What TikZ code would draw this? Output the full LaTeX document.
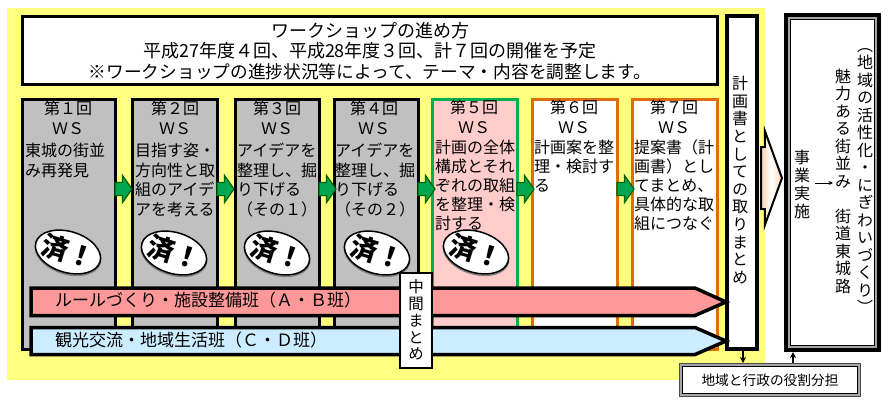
\documentclass[tikz,border=0pt]{standalone}
\usepackage{fontspec}
\setmainfont{Noto Sans CJK JP}
\newfontfamily\vjp[RawFeature=+vert]{Noto Sans CJK JP}
\usetikzlibrary{shapes.geometric,shapes.arrows,calc,shadows,arrows.meta}
\definecolor{ybg}{HTML}{FFFF80}
\definecolor{wsgray}{HTML}{C0C0C0}
\definecolor{wspink}{HTML}{FFCCCC}
\definecolor{wsgreen}{HTML}{00B050}
\definecolor{wsorange}{HTML}{E36C0A}
\definecolor{redban}{HTML}{FF9999}
\definecolor{blueban}{HTML}{CCECFF}
\definecolor{arrgreen}{HTML}{00A651}
\definecolor{arrdark}{HTML}{006400}
\definecolor{peach}{HTML}{FBD4B4}
\definecolor{dblgray}{HTML}{A6A6A6}
\tikzset{
  base/.style={rectangle,inner sep=0,outer sep=0},
  topbox/.style={base,draw=black,line width=3pt,fill=white},
  wsdone/.style={base,draw=black,line width=3pt,fill=wsgray},
  wsnow/.style={base,draw=wsgreen,line width=3pt,fill=wspink},
  wsnext/.style={base,draw=wsorange,line width=3pt,fill=white},
  head/.style={inner sep=0,align=center,font=\fontsize{16}{20}\selectfont,anchor=north},
  body/.style={inner sep=0,align=left,font=\fontsize{16}{19.5}\selectfont,anchor=north west},
  stamp/.style={ellipse,draw=black,line width=1.5pt,fill=white,inner xsep=-5pt,inner ysep=-3pt,minimum width=67pt,minimum height=41pt,rotate=-17,
    font=\fontsize{27}{27}\selectfont\bfseries,
    preaction={draw=gray,line width=1.5pt,transform canvas={yshift=-1.5pt}}},
  garrow/.style={single arrow,draw=arrdark,line width=1.2pt,fill=arrgreen,inner xsep=0pt,inner ysep=6pt,
    minimum height=17pt,minimum width=26pt,single arrow head extend=7pt,single arrow tip angle=110,outer sep=0,anchor=tail},
  banner/.style={draw=black,line width=3.5pt,miter limit=10},
  bantext/.style={inner sep=0,anchor=west,font=\fontsize{17}{17}\selectfont},
  vtext/.style={inner sep=0,align=center,font=\fontsize{16}{17.5}\selectfont\vjp},
}
\begin{document}
\begin{tikzpicture}[x=1pt,y=-1pt]
\useasboundingbox (0,0) rectangle (889,405);
\fill[white] (0,0) rectangle (889,405);
\fill[ybg] (7,8) rectangle (765,380);
% title box
\node[topbox,minimum width=695pt,minimum height=68pt] (title) at (370,50) {};
\node[inner sep=0,align=center,font=\fontsize{18}{20.5}\selectfont] (titletext) at (370,51)
  {ワークショップの進め方\\平成27年度４回、平成28年度３回、計７回の開催を予定\\{\fontsize{17.7}{20.5}\selectfont ※ワークショップの進捗状況等によって、テーマ・内容を調整します。}};
% workshop boxes
\node[wsdone,minimum width=93pt,minimum height=250pt] (w1) at (69,224) {};
\node[wsdone,minimum width=85pt,minimum height=250pt] (w2) at (175,224) {};
\node[wsdone,minimum width=84pt,minimum height=250pt] (w3) at (277.5,224) {};
\node[wsdone,minimum width=84pt,minimum height=250pt] (w4) at (376.5,224) {};
\node[wsnow,minimum width=85pt,minimum height=250pt] (w5) at (475,224) {};
\node[wsnext,minimum width=85pt,minimum height=250pt] (w6) at (575,224) {};
\node[wsnext,minimum width=85pt,minimum height=250pt] (w7) at (675,224) {};
% green arrows between boxes
\foreach \a/\n in {w1/g1,w2/g2,w3/g3,w4/g4,w5/g5,w6/g6}
  \node[garrow] (\n) at ($(\a.east)+(-0.5,-35)$) {};
% headers
\node[head] (h1) at (68,101) {第１回\\ＷＳ};
\node[head] (h2) at (175,101) {第２回\\ＷＳ};
\node[head] (h3) at (277,101) {第３回\\ＷＳ};
\node[head] (h4) at (374,101) {第４回\\ＷＳ};
\node[head] (h5) at (474,100) {第５回\\ＷＳ};
\node[head] (h6) at (574,100) {第６回\\ＷＳ};
\node[head] (h7) at (674,100) {第７回\\ＷＳ};
% bodies
\node[body] (b1) at (25,143) {東城の街並\\み再発見};
\node[body] (b2) at (135,143) {目指す姿・\\方向性と取\\組のアイデ\\アを考える};
\node[body] (b3) at (237,143) {アイデアを\\整理し、掘\\り下げる\\（その１）};
\node[body] (b4) at (335,143) {アイデアを\\整理し、掘\\り下げる\\（その２）};
\node[body,font=\fontsize{16}{19}\selectfont] (b5) at (435,140) {計画の全体\\構成とそれ\\ぞれの取組\\を整理・検\\討する};
\node[body,font=\fontsize{16}{19}\selectfont] (b6) at (534,140) {計画案を整\\理・検討す\\る};
\node[body,font=\fontsize{16}{19}\selectfont] (b7) at (634,140) {提案書（計\\画書）とし\\てまとめ、\\具体的な取\\組につなぐ};
% stamps
\node[stamp] (s1) at (68,252) {済！};
\node[stamp] (s2) at (174,253) {済！};
\node[stamp] (s3) at (277,253) {済！};
\node[stamp] (s4) at (377,253) {済！};
\node[stamp] (s5) at (476,252) {済！};
% summary column
\node[base,draw=black,line width=4pt,fill=white,minimum width=30pt,minimum height=333pt] (plan) at (741.5,182.5) {};
\node[vtext,font=\fontsize{16}{17.6}\selectfont\vjp] (plantext) at (740,180) {計\\画\\書\\と\\し\\て\\の\\取\\り\\ま\\と\\め};
% banners
\draw[banner,fill=redban] (31,288) -- (695,288) -- (726,302) -- (695,315.5) -- (31,315.5) -- cycle;
\node[bantext] (ban1) at (55,300) {ルールづくり・施設整備班（Ａ・Ｂ班）};
\draw[banner,fill=blueban] (31,327.5) -- (695,327.5) -- (726,341) -- (695,354.5) -- (31,354.5) -- cycle;
\node[bantext] (ban2) at (55,340) {観光交流・地域生活班（Ｃ・Ｄ班）};
% mid summary
\node[base,draw=black,line width=2pt,fill=white,minimum width=32pt,minimum height=95pt] (mid) at (416,320.5) {};
\node[vtext,font=\fontsize{15.5}{16.8}\selectfont\vjp] (midtext) at (416,320) {中\\間\\ま\\と\\め};
% right box
\node[base,fill=black,minimum width=97pt,minimum height=339pt] (impl) at (832.5,182.5) {};
\node[base,fill=dblgray,minimum width=89pt,minimum height=331pt] (impl2) at (impl.center) {};
\node[base,fill=white,draw=black,line width=1pt,minimum width=84pt,minimum height=326pt] (impl3) at (impl.center) {};
\node[vtext,font=\fontsize{16}{18}\selectfont\vjp] (c1) at (802,184) {事\\業\\実\\施};
\node[vtext] (c2) at (843,181) {魅\\力\\あ\\る\\街\\並\\み\\ \\街\\道\\東\\城\\路};
\node[vtext] (c3) at (865,181) {（\\地\\域\\の\\活\\性\\化\\・\\に\\ぎ\\わ\\い\\づ\\く\\り\\）};
\coordinate (ca) at (815,183);
\coordinate (cb) at (833,183);
\draw[-{Stealth[length=4.5pt,width=4pt]},line width=.8pt] (ca) -- (cb);
% block arrow
\node[single arrow,draw=black,line width=2pt,left color=peach,right color=peach,middle color=white,inner xsep=0pt,inner ysep=30pt,
  minimum height=21pt,minimum width=92pt,single arrow head extend=16pt,single arrow tip angle=140,outer sep=0,anchor=tail] (big) at (761,178) {};
% role box
\node[base,fill=black!70,minimum width=182pt,minimum height=34pt] (role) at (770,380) {};
\node[base,fill=dblgray,minimum width=180pt,minimum height=32pt] (role2) at (role.center) {};
\node[base,fill=white,draw=black,line width=1.2pt,minimum width=175pt,minimum height=27pt] (role3) at (role.center) {};
\node[inner sep=0,font=\fontsize{13.7}{14}\selectfont] (roletext) at (role.center) {地域と行政の役割分担};
% small arrows
\coordinate (pa) at (743,350);
\coordinate (ia) at (793,352);
\draw[-{Stealth[length=6pt,width=6pt]},line width=1.5pt] (pa) -- (pa |- role.north);
\draw[-{Stealth[length=6pt,width=6pt]},line width=1.5pt] (ia |- role.north) -- (ia);
\end{tikzpicture}
\end{document}
